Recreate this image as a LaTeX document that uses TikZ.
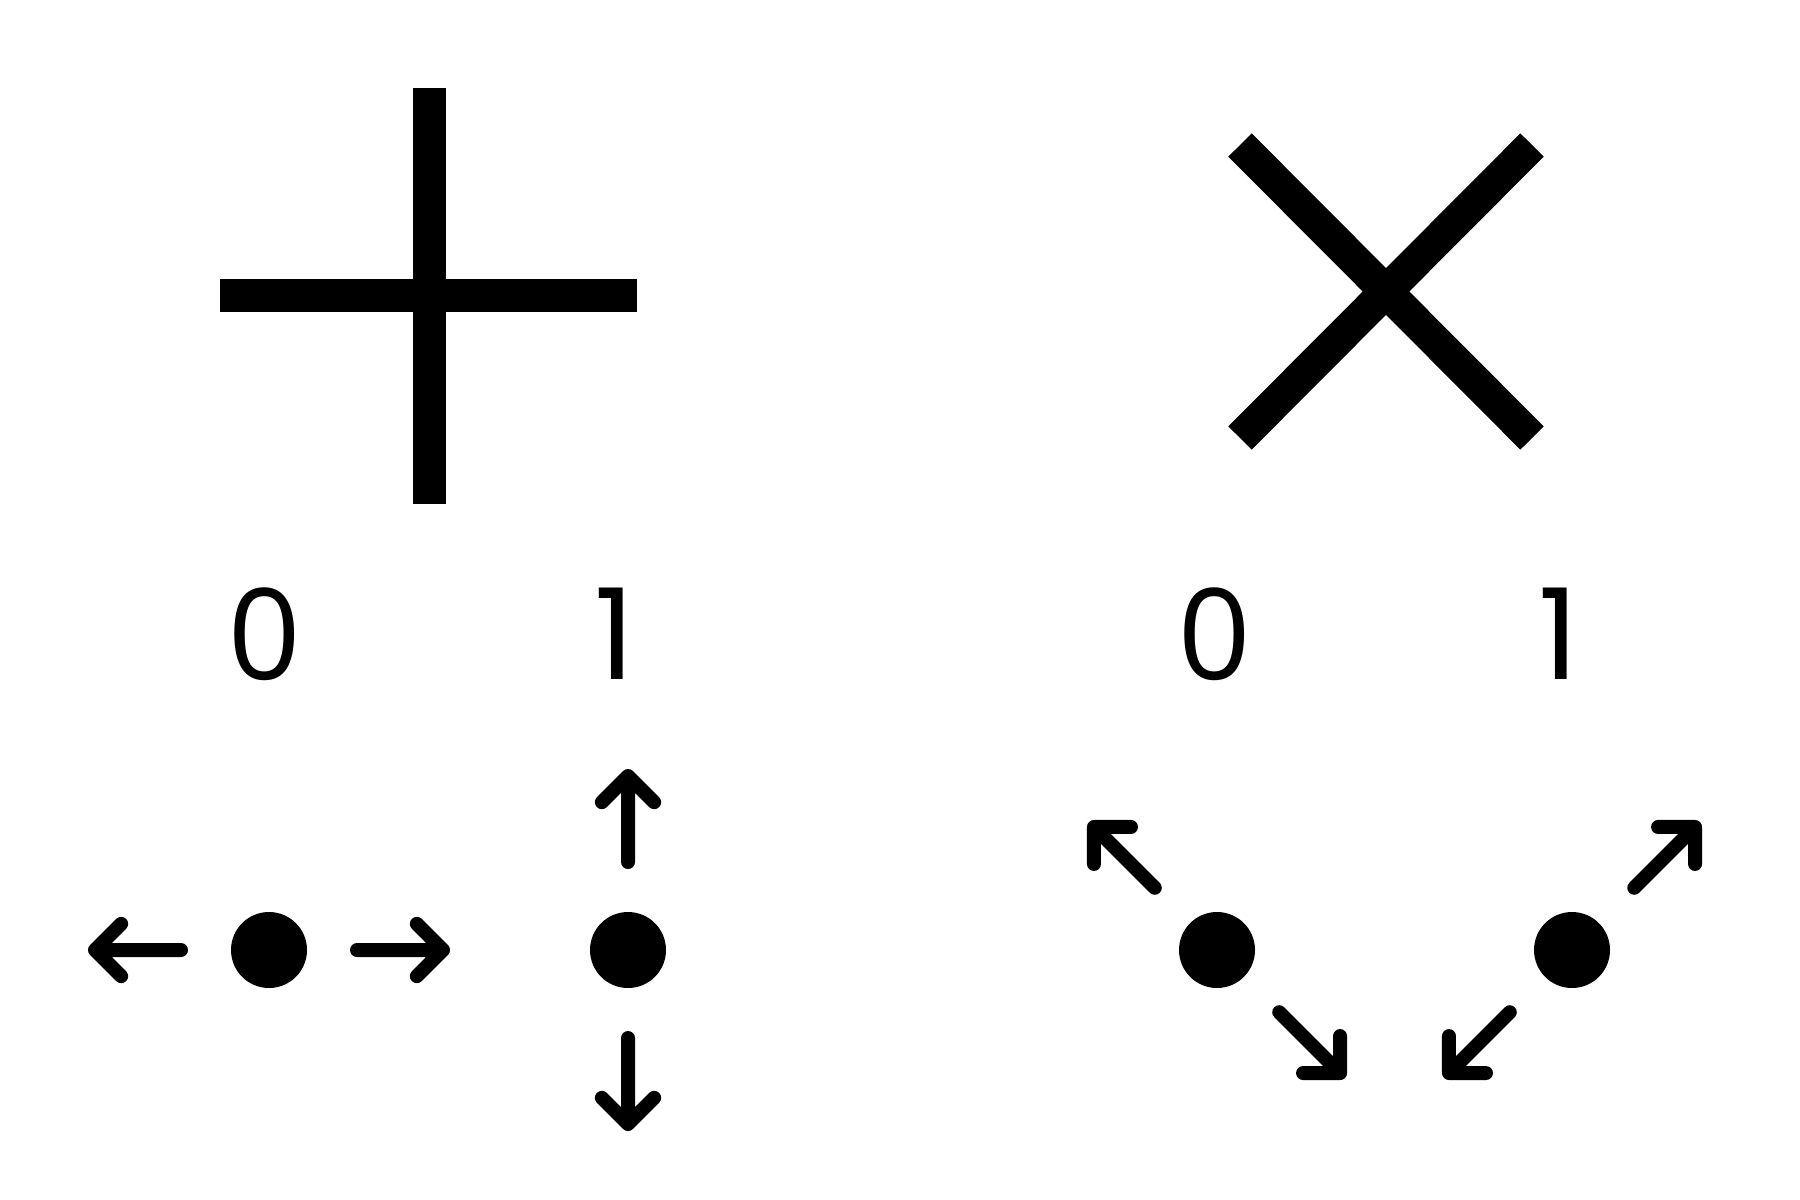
\documentclass[tikz,border=0pt]{standalone}
\usepackage{fontspec}
\setmainfont{Open Sans}
\newfontfamily\flagfont{Poppins}
\usetikzlibrary{positioning}

\begin{document}
\begin{tikzpicture}[x=0.1mm,y=-0.1mm,
  dot/.style={circle,fill,minimum size=7.6mm,inner sep=0pt},
  digit/.style={font=\fontsize{36}{40}\selectfont,inner sep=0pt},
  onedigit/.style={font=\flagfont\fontsize{36}{40}\selectfont,inner sep=0pt},
  bar/.style={line width=3.3mm},
  arr/.style={line width=1.4mm,line cap=round,line join=round}]
\useasboundingbox (0,0) rectangle (1800,1200);

% plus and cross
\draw[bar] (429,88)--(429,504);
\draw[bar] (220,295)--(637,295);
\draw[bar] (1240,145)--(1532,438);
\draw[bar] (1532,145)--(1240,438);

\node[digit] (p0) at (265,634) {0};
\node[onedigit] (p1) at (615,634) {1};
\node[digit] (x0) at (1215,634) {0};
\node[onedigit] (x1) at (1559,634) {1};

\node[dot] (pa) at (269,950) {};
\node[dot] (pb) at (628,950) {};
\node[dot] (xa) at (1217,950) {};
\node[dot] (xb) at (1572,950) {};

\foreach \n/\a in {pa/180,pa/0,pb/90,pb/-90,xa/-135,xa/45,xb/-45,xb/135}
	\draw[arr] ([shift={(\a:88)}]\n.center) -- ([shift={(\a:174)}]\n.center) coordinate (tip)
		++(\a+135:37) -- (tip) -- ++(\a-135:37);

\end{tikzpicture}
\end{document}
